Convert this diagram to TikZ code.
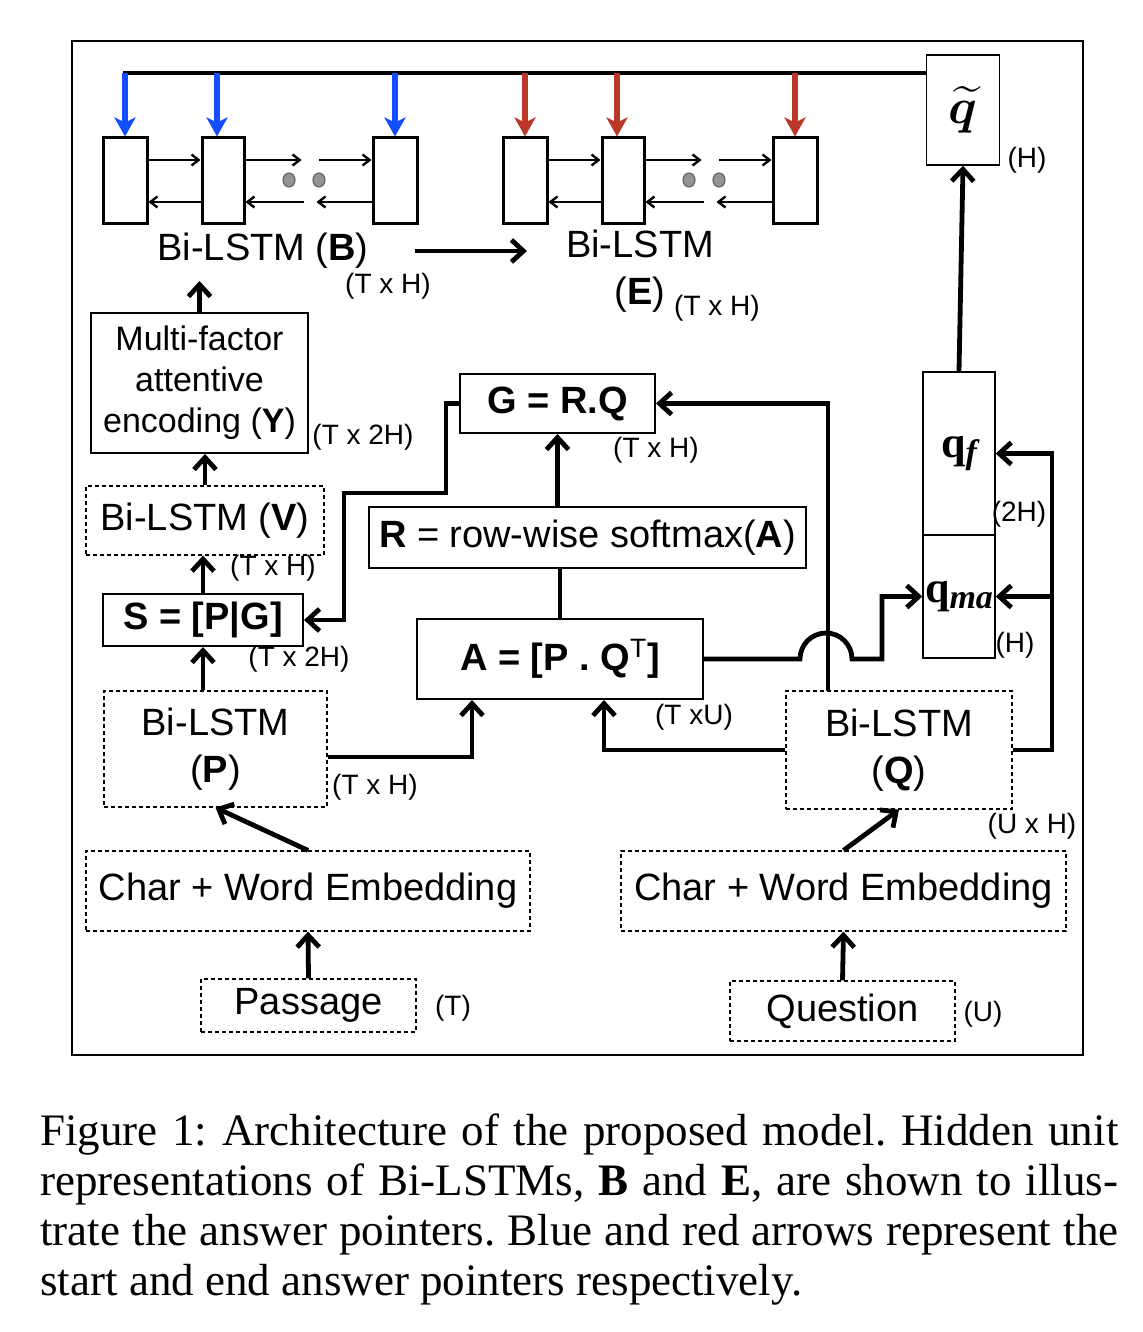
\documentclass[tikz,border=0pt]{standalone}
\usepackage{fontspec}
\setmainfont{Liberation Sans}
\newfontfamily\capfont{Liberation Serif}
\usepackage{amsmath}
\usepackage{bm}
\usetikzlibrary{arrows.meta}

\definecolor{startblue}{RGB}{18,78,255}
\definecolor{endred}{RGB}{186,56,42}

\begin{document}
\begin{tikzpicture}[x=0.5pt,y=-0.5pt,
  cell/.style={draw, line width=1.5pt, minimum width=22pt, minimum height=43pt, inner sep=0pt},
  solidbox/.style={draw, line width=1pt, inner sep=0pt, align=center, font=\fontsize{19}{23.5}\selectfont},
  dashbox/.style={draw, line width=0.6pt, dash pattern=on 2pt off 1.5pt, inner sep=0pt, align=center, font=\fontsize{19}{23.5}\selectfont},
  qvec/.style={draw, line width=0.7pt, inner sep=0pt, font=\capfont\bfseries\fontsize{22}{26}\selectfont},
  lbl/.style={inner sep=0pt, align=center, font=\fontsize{19}{23.5}\selectfont},
  dimlbl/.style={inner sep=0pt, font=\fontsize{14}{17}\selectfont},
  conn/.style={line width=2.4pt, -{Straight Barb[length=6pt,width=11pt]}},
  link/.style={line width=2.4pt},
  cellarr/.style={line width=1.2pt, -{Straight Barb[length=3.5pt,width=5.5pt]}},
  pointer/.style={line width=2.6pt, -{Stealth[length=9.5pt,width=10.5pt,inset=2.5pt]}}]

  \useasboundingbox (0,0) rectangle (1142,1332);

  % Outer frame
  \draw[line width=1pt] (72,41) rectangle (1083,1055);

  % Question vectors
  \node[qvec, minimum width=36.5pt, minimum height=55pt, font=\fontsize{32}{36}\selectfont] (qt) at (963,110) {$\bm{\widetilde{q}}$};
  \node[qvec, minimum width=36pt, minimum height=81.5pt] (qf) at (959,453.5) {q\raisebox{-3pt}{\fontsize{17}{17}\selectfont\itshape f}};
  \node[qvec, minimum width=36pt, minimum height=61.5pt] (qma) at (959,596.5) {q\raisebox{-3pt}{\fontsize{17}{17}\selectfont\itshape ma}};
  \node[dimlbl] (qtdim) at (1027,160) {(H)};
  \node[dimlbl] (qfdim) at (1019,514) {(2H)};
  \node[dimlbl] (qmadim) at (1015,645) {(H)};

  % Bar feeding the answer pointers
  \coordinate (bar) at (0,73);
  \draw[line width=2.4pt] (123,73) -- (qt.west |- bar);

  % Pointer networks B and E
  \foreach \n/\dx/\col in {b/0/startblue, e/400/endred} {
    \node[cell] (\n1) at (125+\dx,181) {};
    \node[cell, minimum width=21pt] (\n2) at (223+\dx,181) {};
    \node[cell] (\n3) at (395+\dx,181) {};
    \filldraw[fill=gray!85, draw=black!60, line width=0.6pt] (289+\dx,180) ellipse (6 and 7);
    \filldraw[fill=gray!85, draw=black!60, line width=0.6pt] (319+\dx,180) ellipse (6 and 7);
    % forward and backward states
    \draw[cellarr] ([yshift=10.5pt]\n1.east) -- ([yshift=10.5pt]\n2.west);
    \draw[cellarr] ([yshift=-10.5pt]\n2.west) -- ([yshift=-10.5pt]\n1.east);
    \draw[cellarr] ([yshift=10.5pt]\n2.east) -- ++(56,0);
    \draw[cellarr] ([yshift=-10.5pt]\n2.east) ++(58,0) -- ([yshift=-10.5pt]\n2.east);
    \draw[cellarr] ([yshift=10.5pt]\n3.west) ++(-53,0) -- ([yshift=10.5pt]\n3.west);
    \draw[cellarr] ([yshift=-10.5pt]\n3.west) -- ++(-55,0);
    % answer pointers
    \draw[pointer, draw=\col] (\n1.north |- bar) -- (\n1.north);
    \draw[pointer, draw=\col] ([xshift=-3pt]\n2.north |- bar) -- ([xshift=-3pt]\n2.north);
    \draw[pointer, draw=\col] (\n3.north |- bar) -- (\n3.north);
  }

  % Labels of B and E
  \node[lbl] (blabel) at (263,251) {Bi-LSTM (\textbf{B})};
  \node[dimlbl] (bdim) at (388,286) {(T x H)};
  \node[lbl] (elabel) at (640,271) {Bi-LSTM\\(\textbf{E})};
  \node[dimlbl] (edim) at (717,308) {(T x H)};
  \draw[conn] ([xshift=23pt]blabel.east) -- ++(112,0);

  % Passage side
  \node[solidbox, minimum width=108.5pt, minimum height=70pt, font=\fontsize{17}{20.5}\selectfont] (multi) at (199.5,383) {Multi-factor\\attentive\\encoding (\textbf{Y})};
  \node[dimlbl] (multidim) at (363,437) {(T x 2H)};
  \node[dashbox, minimum width=119pt, minimum height=34.5pt] (vbox) at (205,520.5) {Bi-LSTM (\textbf{V})};
  \node[dimlbl] (vdim) at (273,568) {(T x H)};
  \node[solidbox, minimum width=100pt, minimum height=26pt] (sbox) at (203,620) {\textbf{S = [P|G]}};
  \node[dimlbl] (sdim) at (299,659) {(T x 2H)};
  \node[dashbox, minimum width=111.5pt, minimum height=58pt] (pbox) at (215.5,749) {Bi-LSTM\\(\textbf{P})};
  \node[dimlbl] (pdim) at (375,787) {(T x H)};
  \node[dashbox, minimum width=222pt, minimum height=40pt] (embp) at (308,891) {Char + Word Embedding};
  \node[dashbox, minimum width=107.5pt, minimum height=26.5pt] (pass) at (308.5,1005.5) {Passage};
  \node[dimlbl] (passdim) at (453,1008) {(T)};

  % Attention blocks
  \node[solidbox, minimum width=97.5pt, minimum height=29.5pt] (gbox) at (557.5,403.5) {\textbf{G = R.Q}};
  \node[dimlbl] (gdim) at (656,450) {(T x H)};
  \node[solidbox, minimum width=218.5pt, minimum height=30.5pt] (rbox) at (587.5,537.5) {\textbf{R} = row-wise softmax(\textbf{A})};
  \node[solidbox, minimum width=143pt, minimum height=40pt] (abox) at (560,659) {\textbf{A = [P . Q}\textsuperscript{T}\textbf{]}};
  \node[dimlbl] (adim) at (694,717) {(T xU)};

  % Question side
  \node[dashbox, minimum width=113pt, minimum height=59pt] (qbox) at (899,750) {Bi-LSTM\\(\textbf{Q})};
  \node[dimlbl] (qdim) at (1032,826) {(U x H)};
  \node[dashbox, minimum width=222.5pt, minimum height=40pt] (embq) at (843.5,891) {Char + Word Embedding};
  \node[dashbox, minimum width=112.5pt, minimum height=30pt] (ques) at (842.5,1011) {Question};
  \node[dimlbl] (quesdim) at (983,1014) {(U)};

  % Connectors, passage side
  \draw[conn] (pass.north) -- (embp.south);
  \draw[conn] (embp.north) -- (pbox.south);
  \draw[conn] (sbox.south |- pbox.north) -- (sbox.south);
  \draw[conn] (sbox.north) -- (sbox.north |- vbox.south);
  \draw[conn] (vbox.north) -- (vbox.north |- multi.south);
  \draw[conn] (multi.north) -- ++(0,-31);
  \draw[conn] ([yshift=-4pt]pbox.east) -| ([xshift=-44pt]abox.south);

  % Connectors, attention
  \draw[link] (abox.north) -- (abox.north |- rbox.south);
  \draw[conn] (gbox.south |- rbox.north) -- (gbox.south);
  \coordinate (gs1) at (446,493);
  \coordinate (gs2) at (344,493);
  \draw[conn] (gbox.west) -| (gs1) -- (gs2) |- (sbox.east);

  % Connectors, question side
  \draw[conn] (ques.north) -- (embq.south);
  \draw[conn] (embq.north) -- (qbox.south);
  \draw[conn] (qbox.west) -| ([xshift=22pt]abox.south);
  \coordinate (qg) at (828,691);
  \draw[conn] (qg) |- (gbox.east);
  \draw[conn] (abox.east) -- (800,659) arc (180:360:26) -- (882,659) |- (qma.west);
  \coordinate (qr) at (1052,750);
  \draw[conn] (qbox.east) -- (qr) |- (qf.east);
  \draw[conn] (qr |- qma.east) -- (qma.east);
  \draw[conn] (qf.north) -- (qt.south);

  % Caption
  \node[anchor=north west, inner sep=0pt, text width=539pt, align=justify, font=\capfont\frenchspacing\fontsize{22.5}{25}\selectfont] (caption) at (40,1113) {Figure 1: Architecture of the proposed model. Hidden unit\linebreak representations of Bi-LSTMs, \textbf{B} and \textbf{E}, are shown to illus-\linebreak trate the answer pointers. Blue and red arrows represent the\linebreak start and end answer pointers respectively.};
\end{tikzpicture}
\end{document}
